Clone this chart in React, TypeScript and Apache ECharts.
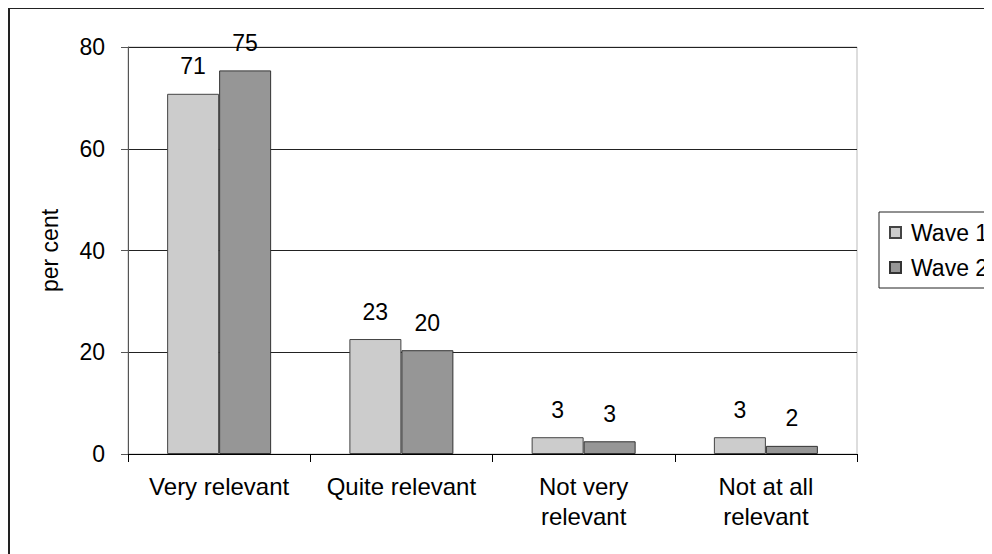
import React, { useEffect, useRef } from "react";
import * as echarts from "echarts";

const categories = ["Very relevant", "Quite relevant", "Not very\nrelevant", "Not at all\nrelevant"];
const wave1 = [70.8, 22.6, 3.3, 3.3];
const wave2 = [75.4, 20.4, 2.5, 1.6];
const yTicks = { min: 0, max: 80, interval: 20 };
const seriesNames = ["Wave 1", "Wave 2"];

const FONT = "'Liberation Sans', Arial, sans-serif";

export default function App() {
  const ref = useRef<HTMLDivElement>(null);
  useEffect(() => {
    if (!ref.current) return;
    const chart = echarts.init(ref.current, null, { renderer: "svg" });
    const label = {
      show: true,
      position: "top",
      distance: 16,
      color: "#000",
      fontSize: 23,
      fontFamily: FONT,
      formatter: (p: any) => String(Math.round(p.value)),
    };
    chart.setOption({
      animation: false,
      backgroundColor: "#fff",
      textStyle: { fontFamily: FONT, color: "#000" },
      graphic: [
        {
          type: "rect",
          shape: { x: 1, y: 0, width: 2000, height: 2000 },
          style: { fill: "none", stroke: "#222", lineWidth: 2 },
          silent: true,
          z: 100,
        },
      ],
      grid: {
        left: 120,
        right: 135,
        top: 39,
        bottom: 100,
        show: true,
        borderColor: "#bbb",
        borderWidth: 1,
        backgroundColor: "transparent",
      },
      legend: {
        orient: "vertical",
        left: 871,
        top: 204,
        padding: [9, 10, 9, 10],
        itemWidth: 11,
        itemHeight: 11,
        itemGap: 12,
        borderColor: "#222",
        borderWidth: 1,
        icon: "rect",
        textStyle: { fontSize: 23, fontFamily: FONT, color: "#000", padding: [0, 0, 0, 5] },
        data: seriesNames,
      },
      xAxis: {
        type: "category",
        data: categories,
        axisLine: { lineStyle: { color: "#000", width: 1 } },
        axisTick: { show: true, length: 8, lineStyle: { color: "#000" } },
        axisLabel: { fontSize: 24, fontFamily: FONT, color: "#000", margin: 17, lineHeight: 30, interval: 0 },
      },
      yAxis: {
        type: "value",
        min: yTicks.min,
        max: yTicks.max,
        interval: yTicks.interval,
        name: "per cent",
        nameLocation: "middle",
        nameGap: 67,
        nameRotate: 90,
        nameTextStyle: { fontSize: 23, fontFamily: FONT, color: "#000" },
        axisLine: { show: true, lineStyle: { color: "#555", width: 1 } },
        axisTick: { show: true, length: 7, lineStyle: { color: "#555" } },
        axisLabel: { fontSize: 23, fontFamily: FONT, color: "#000", margin: 23 },
        splitLine: { show: true, lineStyle: { color: "#222", width: 1 } },
      },
      series: [
        {
          name: seriesNames[0],
          type: "bar",
          data: wave1,
          barWidth: 52,
          barGap: "0%",
          itemStyle: { color: "#cccccc", borderColor: "#444", borderWidth: 1 },
          label,
        },
        {
          name: seriesNames[1],
          type: "bar",
          data: wave2,
          barWidth: 52,
          barGap: "0%",
          itemStyle: { color: "#969696", borderColor: "#333", borderWidth: 1 },
          label,
        },
      ],
    });
    return () => chart.dispose();
  }, []);
  return <div ref={ref} style={{ width: 984, height: 546 }} />;
}
